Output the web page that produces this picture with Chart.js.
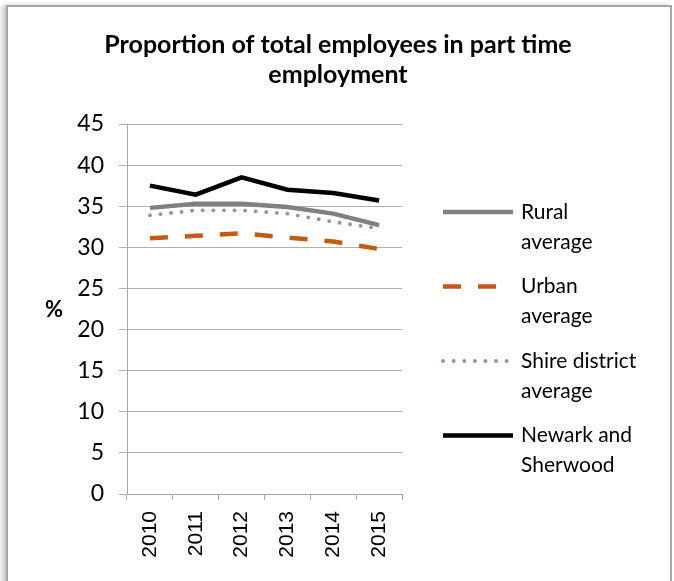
<!DOCTYPE html>
<html>
<head>
<meta charset="utf-8">
<script src="https://cdn.jsdelivr.net/npm/chart.js@4"></script>
<style>
    body { margin: 0; background: #fff; }
    .marco {
        position: absolute; left: 6px; top: 5px; width: 662px; height: 600px;
        border: 2px solid #a6a6a6; border-bottom: none;
        box-shadow: -4px 0 5px rgba(0, 0, 0, 0.22);
    }
    #grafico { position: absolute; left: 0; top: 0; }
</style>
</head>
<body>
<div class="marco"></div>
<canvas id="grafico" width="674" height="581"></canvas>
<script>
// datos
let anios = ["2010", "2011", "2012", "2013", "2014", "2015"];
let rural = [34.8, 35.3, 35.3, 34.9, 34.1, 32.7];
let urbano = [31.1, 31.4, 31.7, 31.2, 30.7, 29.8];
let condado = [33.9, 34.5, 34.5, 34.1, 33.1, 32.3];
let newark = [37.5, 36.4, 38.5, 37.0, 36.6, 35.7];
let nombres = [["Rural", "average"], ["Urban", "average"], ["Shire district", "average"], ["Newark and", "Sherwood"]];
let titulo = ["Proportion of total employees in part time", "employment"];
let ticksY = [0, 5, 10, 15, 20, 25, 30, 35, 40, 45];

let fuente = "Lato, 'Open Sans', sans-serif";

// titulo, leyenda y "%" a mano (textos en dos lineas)
let textos = {
    id: "textos",
    afterDraw(chart) {
        let ctx = chart.ctx;
        ctx.save();
        ctx.fillStyle = "#000";
        ctx.textBaseline = "middle";

        ctx.font = "bold 25px " + fuente;
        ctx.textAlign = "center";
        titulo.forEach((t, k) => ctx.fillText(t, 338, 45 + k * 30));

        ctx.font = "bold 22px " + fuente;
        ctx.fillText("%", 54, 310);

        chart.data.datasets.forEach((ds, i) => {
            let y = 212 + i * 74.5;
            ctx.beginPath();
            ctx.strokeStyle = ds.borderColor;
            ctx.lineWidth = ds.borderWidth;
            ctx.lineCap = ds.borderCapStyle || "butt";
            ctx.setLineDash(ds.borderDash || []);
            ctx.moveTo(443, y);
            ctx.lineTo(513, y);
            ctx.stroke();
            ctx.setLineDash([]);
            ctx.font = "21px " + fuente;
            ctx.textAlign = "left";
            ds.label.forEach((t, k) => ctx.fillText(t, 521, y + k * 30));
        });
        ctx.restore();
    }
};

let chart = new Chart(document.getElementById("grafico"), {
    type: "line",
    data: {
        labels: anios,
        datasets: [
            { label: nombres[0], data: rural, borderColor: "#808080", borderWidth: 4.5 },
            { label: nombres[1], data: urbano, borderColor: "#c55a11", borderWidth: 4.5, borderDash: [18, 17] },
            { label: nombres[2], data: condado, borderColor: "#8497b0", borderWidth: 3.8, borderDash: [0.1, 10.5], borderCapStyle: "round" },
            { label: nombres[3], data: newark, borderColor: "#000000", borderWidth: 4.5 }
        ]
    },
    options: {
        responsive: false,
        animation: false,
        layout: { padding: { left: 0, right: 272, top: 124, bottom: 0 } },
        elements: {
            point: { radius: 0 },
            line: { tension: 0, fill: false }
        },
        plugins: {
            legend: { display: false },
            tooltip: { enabled: false },
            title: { display: false }
        },
        scales: {
            x: {
                offset: true,
                grid: { offset: true, drawOnChartArea: false, color: "#a6a6a6", tickLength: 6 },
                border: { color: "#a6a6a6" },
                ticks: {
                    color: "#000",
                    font: { family: "'Liberation Sans', Arial, sans-serif", size: 21 },
                    minRotation: 90, maxRotation: 90, padding: 11
                },
                afterFit(scale) { scale.height = 87; }
            },
            y: {
                min: 0, max: 45,
                afterBuildTicks(scale) { scale.ticks = ticksY.map(v => ({ value: v })); },
                grid: { color: "#b0b0b0", tickLength: 8 },
                border: { color: "#a6a6a6" },
                ticks: {
                    color: "#000",
                    font: { family: fuente, size: 23 },
                    padding: 15
                },
                afterFit(scale) { scale.width = 127; }
            }
        }
    },
    plugins: [textos]
});
</script>
</body>
</html>
